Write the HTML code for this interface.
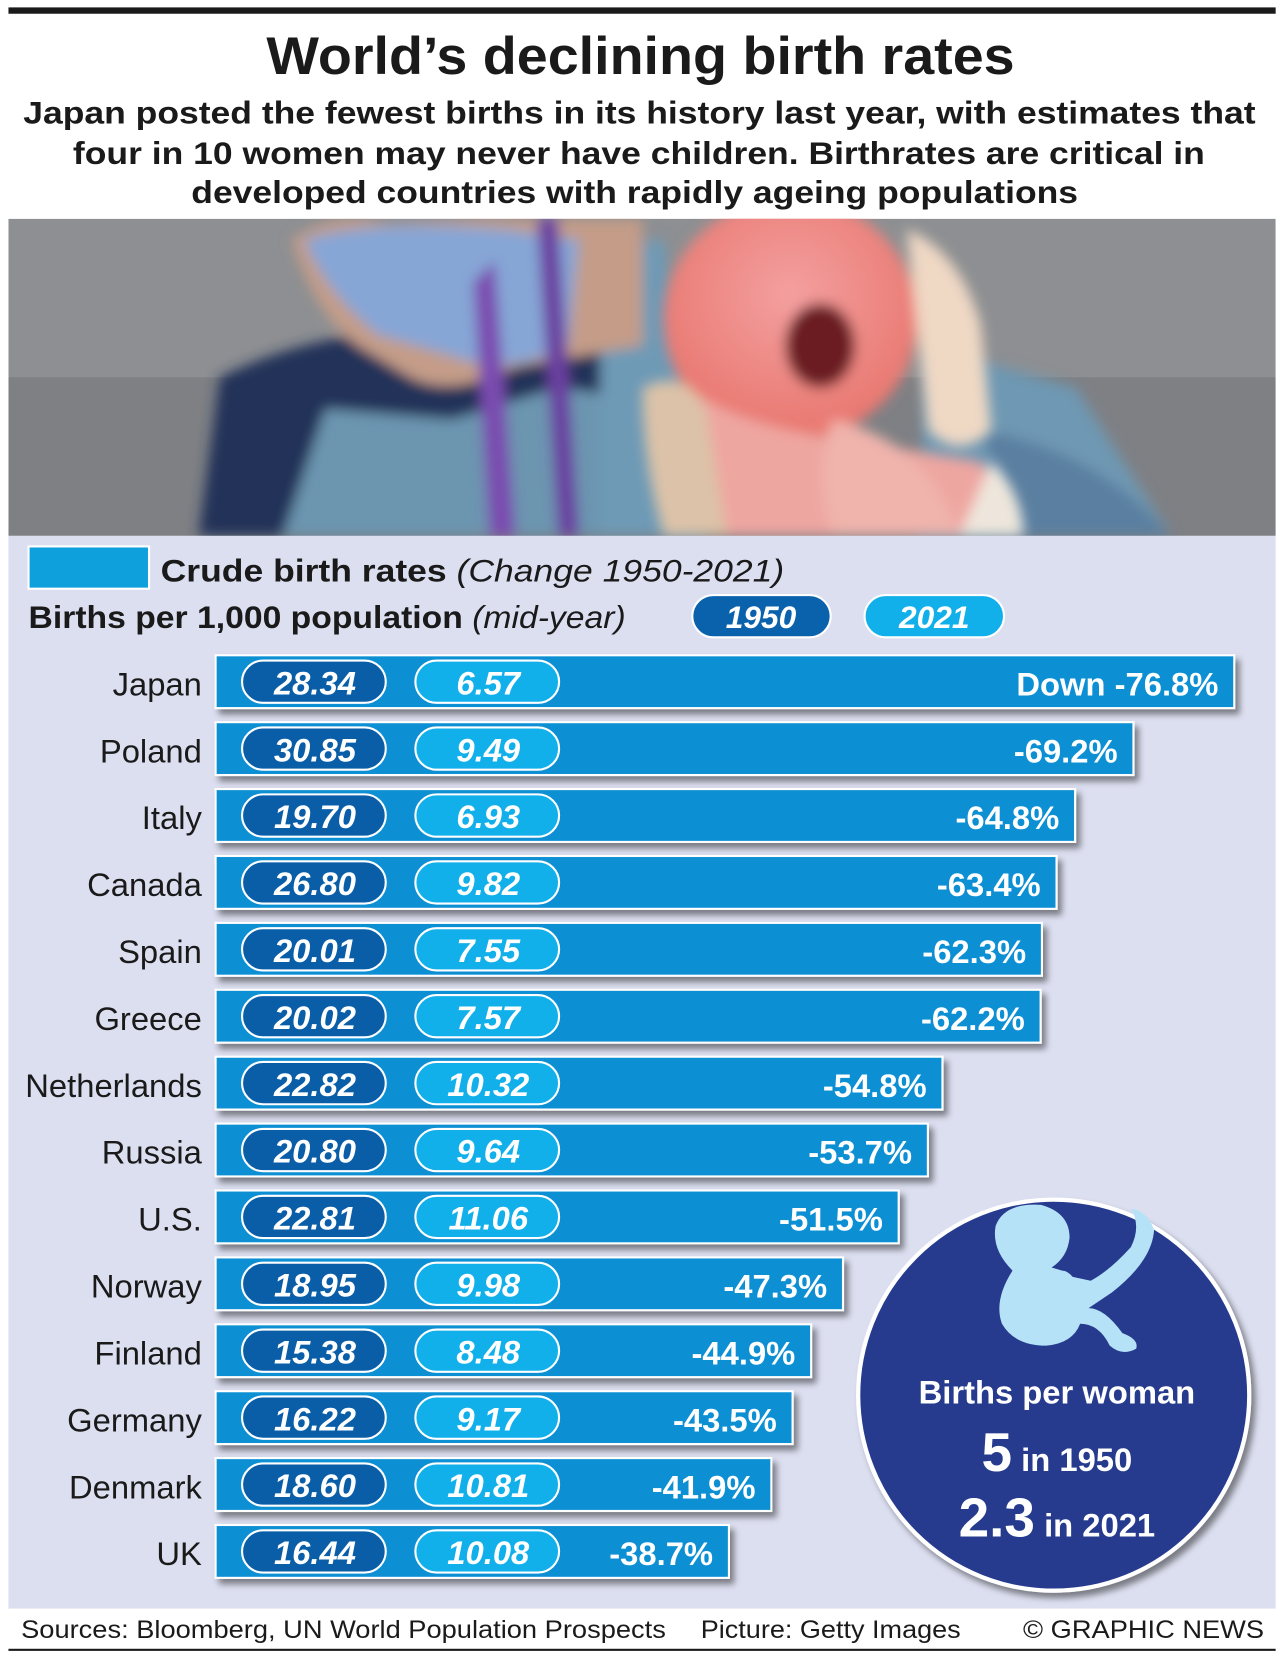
<!DOCTYPE html>
<html><head><meta charset="utf-8">
<style>
html,body{margin:0;padding:0;background:#fff;}
svg{display:block;font-family:"Liberation Sans",sans-serif;}
</style></head>
<body>
<svg id="chart" width="1282" height="1653" viewBox="0 0 1213 1564" preserveAspectRatio="none" xmlns="http://www.w3.org/2000/svg">
<defs>
<filter id="sh" x="-5%" y="-20%" width="115%" height="160%"><feDropShadow dx="4" dy="5" stdDeviation="3" flood-color="#000" flood-opacity="0.45"/></filter>
<filter id="blur"><feGaussianBlur stdDeviation="6"/></filter>
<radialGradient id="skin" cx="0.5" cy="0.4" r="0.6"><stop offset="0" stop-color="#f4a0a0"/><stop offset="1" stop-color="#e8766e"/></radialGradient>
</defs>
<rect x="0" y="0" width="1213" height="1564" fill="#fff"/>
<rect x="8" y="7" width="1199" height="6" fill="#1a1a1a"/>
<text x="252" y="70" textLength="708" lengthAdjust="spacingAndGlyphs" font-size="50" font-weight="bold" fill="#1a1a1a">World’s declining birth rates</text>
<g font-size="30" font-weight="bold" fill="#1a1a1a">
<text x="22" y="117" textLength="1166" lengthAdjust="spacingAndGlyphs">Japan posted the fewest births in its history last year, with estimates that</text>
<text x="69" y="155" textLength="1071" lengthAdjust="spacingAndGlyphs">four in 10 women may never have children. Birthrates are critical in</text>
<text x="181" y="192" textLength="839" lengthAdjust="spacingAndGlyphs">developed countries with rapidly ageing populations</text>
</g>
<g>
<svg x="8" y="207" width="1199" height="300" viewBox="0 0 1199 300" preserveAspectRatio="none">
<rect width="1199" height="300" fill="#8d8f92"/>
<rect y="150" width="1199" height="150" fill="#7e8084"/>
<g filter="url(#blur)">
<path d="M180 300 L200 150 Q260 120 330 110 L420 150 L560 120 L600 300 Z" fill="#243258"/>
<path d="M260 300 L300 180 L420 190 L520 160 L600 170 L640 300Z" fill="#6c95b0"/>
<path d="M560 20 L620 20 L660 300 L560 300Z" fill="#6e9ab6"/>
<path d="M870 120 L1010 160 L1100 300 L860 300Z" fill="#6e98b3"/>
<path d="M920 200 Q1030 220 1100 300 L960 300Z" fill="#5a7fa0"/>
<path d="M268 20 Q310 -10 360 5 L440 0 L600 0 L600 120 L480 140 Q420 170 380 150 L330 120 Q290 90 268 20Z" fill="#c49c88"/>
<path d="M280 20 Q340 0 470 10 L540 20 L530 120 Q470 150 420 130 L350 110 Q300 70 280 20Z" fill="#86a6d6"/>
<path d="M460 40 L480 300 L455 300 L440 60Z" fill="#7a4bb0"/>
<path d="M500 0 L520 0 L540 300 L520 300Z" fill="#6a40a0"/>
</g>
<g filter="url(#blur)">
<ellipse cx="740" cy="95" rx="120" ry="115" fill="url(#skin)"/>
<path d="M640 160 Q700 200 800 210 L920 230 Q950 270 930 300 L660 300 Q620 240 640 160Z" fill="#eea6a0"/>
<path d="M780 190 Q870 210 900 300 L780 300 Q760 240 780 190Z" fill="#f0b4ac"/>
<path d="M850 10 Q900 30 920 100 L930 200 Q900 230 870 200 Z" fill="#efd8c4"/>
<path d="M600 160 Q640 140 660 180 L680 300 L620 300 Q600 230 600 160Z" fill="#dcc2a8"/>
<path d="M930 230 Q960 260 960 300 L900 300Z" fill="#eee6dc"/>
<ellipse cx="768" cy="120" rx="33" ry="40" fill="#6a1a22"/>
</g>
</svg>
</g>
<rect x="8" y="507" width="1199" height="1015" fill="#dcdff0"/>
<rect x="27" y="517" width="114" height="40" fill="#0ea0dc" stroke="#fff" stroke-width="2"/>
<text x="152" y="550" textLength="590" lengthAdjust="spacingAndGlyphs" font-size="30" fill="#1a1a1a"><tspan font-weight="bold">Crude birth rates</tspan> <tspan font-style="italic">(Change 1950-2021)</tspan></text>
<text x="27" y="594" textLength="565" lengthAdjust="spacingAndGlyphs" font-size="30" fill="#1a1a1a"><tspan font-weight="bold">Births per 1,000 population</tspan> <tspan font-style="italic">(mid-year)</tspan></text>
<g>
<rect x="655" y="563" width="131" height="40" rx="20" fill="#0a62ad" stroke="#fff" stroke-width="2"/>
<text x="720" y="594" text-anchor="middle" font-size="30" font-weight="bold" font-style="italic" fill="#fff">1950</text>
</g>
<g>
<rect x="818" y="563" width="132" height="40" rx="20" fill="#12b0ea" stroke="#fff" stroke-width="2"/>
<text x="884" y="594" text-anchor="middle" font-size="30" font-weight="bold" font-style="italic" fill="#fff">2021</text>
</g>
<g id="bars"></g>
<g>
<circle cx="997" cy="1320" r="185" fill="#263b8e" stroke="#fff" stroke-width="4" filter="url(#sh)"/>
<path fill="#b5e2f7" transform="translate(0 1140) scale(1 0.74) translate(0 -1138)" d="M985 1138 Q950 1135 942 1165 Q938 1195 958 1222 Q940 1260 948 1290 Q960 1318 990 1318 Q1015 1315 1022 1290 Q1040 1290 1050 1318 Q1062 1332 1075 1322 Q1078 1310 1062 1302 Q1045 1270 1030 1270 L1052 1250 Q1090 1210 1092 1170 Q1085 1145 1070 1143 Q1080 1165 1070 1192 Q1050 1222 1032 1235 L1015 1230 Q1010 1222 1005 1222 L995 1218 Q1010 1205 1012 1180 Q1012 1148 985 1138Z"/>
<text x="1000" y="1328" text-anchor="middle" font-size="31" font-weight="bold" fill="#fff">Births per woman</text>
<text x="1000" y="1392" text-anchor="middle" fill="#fff" font-weight="bold"><tspan font-size="52">5</tspan><tspan font-size="31"> in 1950</tspan></text>
<text x="1000" y="1454" text-anchor="middle" fill="#fff" font-weight="bold"><tspan font-size="52">2.3</tspan><tspan font-size="31"> in 2021</tspan></text>
</g>
<g font-size="24" fill="#1a1a1a">
<text x="20" y="1550" textLength="610" lengthAdjust="spacingAndGlyphs">Sources: Bloomberg, UN World Population Prospects</text>
<text x="663" y="1550" textLength="246" lengthAdjust="spacingAndGlyphs">Picture: Getty Images</text>
<text x="968" y="1550" textLength="228" lengthAdjust="spacingAndGlyphs">© GRAPHIC NEWS</text>
</g>
<rect x="8" y="1560" width="1199" height="2" fill="#1a1a1a"/>
</svg>
<script>
const countries = ["Japan","Poland","Italy","Canada","Spain","Greece","Netherlands","Russia","U.S.","Norway","Finland","Germany","Denmark","UK"];
const rates1950 = [28.34,30.85,19.70,26.80,20.01,20.02,22.82,20.80,22.81,18.95,15.38,16.22,18.60,16.44];
const rates2021 = [6.57,9.49,6.93,9.82,7.55,7.57,10.32,9.64,11.06,9.98,8.48,9.17,10.81,10.08];
const changePct = [76.8,69.2,64.8,63.4,62.3,62.2,54.8,53.7,51.5,47.3,44.9,43.5,41.9,38.7];

const NS = "http://www.w3.org/2000/svg";
const g = document.getElementById('bars');
const x0 = 204, rowTop = 620, rowStep = 63.3, barH = 50;
const xScale = v => v * 12.55;
const yScale = i => rowTop + i * rowStep;
function mk(tag, attrs, parent) {
  const e = document.createElementNS(NS, tag);
  for (const k in attrs) e.setAttribute(k, attrs[k]);
  parent.appendChild(e);
  return e;
}
countries.forEach((c, i) => {
  const y = yScale(i);
  const row = mk('g', {}, g);
  
  
  const lab = mk('text', {x: 191, y: y + 38, 'text-anchor': 'end', 'font-size': 31, fill: '#1a1a1a'}, row);
  lab.textContent = c;
  
  
  const bar = mk('rect', {x: x0, y: y, width: xScale(changePct[i]), height: barH, fill: '#0a8fd4', stroke: '#fff', 'stroke-width': 2, filter: 'url(#sh)'}, row);
  
  
  const p1 = mk('rect', {x: 229, y: y + 5, width: 136, height: 40, rx: 20, fill: '#0a5ea8', stroke: '#fff', 'stroke-width': 2}, row);
  
  
  const t1 = mk('text', {x: 298, y: y + 37, 'text-anchor': 'middle', 'font-size': 31, 'font-weight': 'bold', 'font-style': 'italic', fill: '#fff'}, row);
  t1.textContent = rates1950[i].toFixed(2);
  
  
  const p2 = mk('rect', {x: 393, y: y + 5, width: 136, height: 40, rx: 20, fill: '#12b0ea', stroke: '#fff', 'stroke-width': 2}, row);
  
  
  const t2 = mk('text', {x: 462, y: y + 37, 'text-anchor': 'middle', 'font-size': 31, 'font-weight': 'bold', 'font-style': 'italic', fill: '#fff'}, row);
  t2.textContent = rates2021[i].toFixed(2);
  
  
  const tp = mk('text', {x: x0 + xScale(changePct[i]) - 15, y: y + 38, 'text-anchor': 'end', 'font-size': 31, 'font-weight': 'bold', fill: '#fff'}, row);
  tp.textContent = (i === 0 ? 'Down ' : '') + '-' + changePct[i].toFixed(1) + '%';
  
  
});
</script>
</body></html>
